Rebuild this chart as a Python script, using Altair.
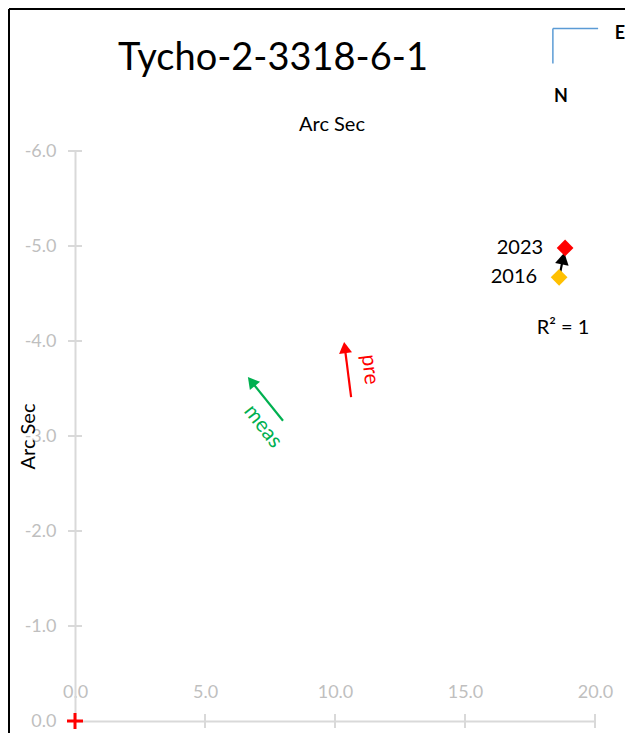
import math
import altair as alt
import pandas as pd

# ---------------- data ----------------
title_text = "Tycho-2-3318-6-1"
axis_title = "Arc Sec"

x_ticks = [0, 5, 10, 15, 20]
y_ticks = [0, -1, -2, -3, -4, -5, -6]

years = ["2016", "2023"]
obs_x = [18.62, 18.85]
obs_y = [-4.67, -4.98]
obs_colors = ["#FFC000", "#FF0000"]

# motion arrow 2016 -> 2023 (tail, tip)
motion_x = [18.62, 18.82]
motion_y = [-4.67, -4.93]

# direction arrows (tail, tip)
pre_x = [10.62, 10.35]
pre_y = [-3.41, -3.99]
meas_x = [8.0, 6.65]
meas_y = [-3.16, -3.62]

arrow_labels = ["pre", "meas"]
arrow_label_x = [11.33, 7.22]
arrow_label_y = [-3.70, -3.10]
arrow_label_angle = [83, 52]
arrow_colors = ["#FF0000", "#00B050"]

r2_text = "R² = 1"
r2_x = [18.77]
r2_y = [-4.14]

# compass
compass_x = [18.38, 20.12, 18.38]
compass_y = [-7.29, -7.29, -6.92]
compass_labels = ["E", "N"]
compass_lx = [20.96, 18.69]
compass_ly = [-7.23, -6.57]

# ---------------- geometry ----------------
W, H = 520, 570
X_DOM = [0, 20]
Y_DOM = [-6, 0]
PX_X = W / (X_DOM[1] - X_DOM[0])
PX_Y = H / (Y_DOM[1] - Y_DOM[0])
FONT = "Lato"

xs = alt.Scale(domain=X_DOM, nice=False, zero=False)
ys = alt.Scale(domain=Y_DOM, nice=False, zero=False, reverse=True)


def X(field):
    return alt.X(field, type="quantitative", scale=xs)


def Y(field):
    return alt.Y(field, type="quantitative", scale=ys)


def arrow_parts(xx, yy, color, size):
    """Return (segment row, head row) for an arrow from tail to tip."""
    dxp = (xx[1] - xx[0]) * PX_X
    dyp = (yy[1] - yy[0]) * PX_Y
    L = math.hypot(dxp, dyp)
    ux, uy = dxp / L, dyp / L
    h = 0.433 * math.sqrt(size)
    cx = xx[1] - ux * h / PX_X
    cy = yy[1] - uy * h / PX_Y
    ang = math.degrees(math.atan2(dxp, -dyp)) % 360
    seg = {"x": xx[0], "y": yy[0], "x2": cx, "y2": cy, "color": color}
    head = {"x": cx, "y": cy, "angle": ang, "color": color, "size": size}
    return seg, head


segs, heads = [], []
for xx, yy, col, sz in [
    (pre_x, pre_y, arrow_colors[0], 170),
    (meas_x, meas_y, arrow_colors[1], 170),
    (motion_x, motion_y, "#000000", 190),
]:
    s, hd = arrow_parts(xx, yy, col, sz)
    segs.append(s)
    heads.append(hd)
seg_df = pd.DataFrame(segs)
head_df = pd.DataFrame(heads)

# ---------------- axes ----------------
xaxis = alt.Axis(
    values=x_ticks, title=" ", ticks=False, grid=False, format=".1f",
    domainColor="#D9D9D9", domainWidth=2,
    labelColor="#BFBFBF", labelFont=FONT, labelFontSize=18,
    labelPadding=-29, labelBaseline="middle", labelFlush=False,
)
yaxis = alt.Axis(
    values=y_ticks, title=axis_title, ticks=False, grid=False,
    labelExpr="(datum.value < 0 ? '-' : '') + format(abs(datum.value), '.1f')",
    domainColor="#D9D9D9", domainWidth=2,
    labelColor="#BFBFBF", labelFont=FONT, labelFontSize=18,
    labelPadding=19, labelBaseline="middle", labelFlush=False,
    titleColor="#000000", titleFont=FONT, titleFontSize=20, titleFontWeight="normal",
    titleX=-47, titleY=H / 2, titleAngle=270, titleAlign="center", titleBaseline="middle",
)

obs_df = pd.DataFrame({"year": years, "x": obs_x, "y": obs_y, "color": obs_colors})

axes_layer = alt.Chart(pd.DataFrame({"x": [0], "y": [0]})).mark_point(opacity=0).encode(
    x=alt.X("x", type="quantitative", scale=xs, axis=xaxis),
    y=alt.Y("y", type="quantitative", scale=ys, axis=yaxis),
)

xtick_layer = alt.Chart(pd.DataFrame({"x": x_ticks})).mark_rule(
    color="#D9D9D9", strokeWidth=2
).encode(x=X("x"), y=alt.value(H - 7), y2=alt.value(H + 7))

ytick_layer = alt.Chart(pd.DataFrame({"y": y_ticks})).mark_rule(
    color="#D9D9D9", strokeWidth=2
).encode(y=Y("y"), x=alt.value(-7), x2=alt.value(7))

obs_layer = alt.Chart(obs_df).mark_point(
    shape="diamond", filled=True, size=280, opacity=1
).encode(x=X("x"), y=Y("y"), color=alt.Color("color:N", scale=None))

origin = alt.Chart(pd.DataFrame({"x": [0], "y": [0]})).mark_point(
    shape="M-1,0H1M0,-1V1", filled=False, color="#FF0000", strokeWidth=3, size=256, opacity=1
).encode(x=X("x"), y=Y("y"))

seg_layer = alt.Chart(seg_df).mark_rule(strokeWidth=2.2).encode(
    x=X("x"), y=Y("y"), x2="x2", y2="y2", color=alt.Color("color:N", scale=None)
)

head_layer = alt.Chart(head_df).mark_point(
    shape="triangle-up", filled=True, opacity=1
).encode(
    x=X("x"), y=Y("y"),
    angle=alt.Angle("angle:Q", scale=None),
    size=alt.Size("size:Q", scale=None),
    color=alt.Color("color:N", scale=None),
)

year_labels = alt.Chart(obs_df).mark_text(
    font=FONT, fontSize=20, align="right", baseline="middle", dx=-22, color="#000000"
).encode(x=X("x"), y=Y("y"), text="year:N")

r2_layer = alt.Chart(pd.DataFrame({"t": [r2_text], "x": r2_x, "y": r2_y})).mark_text(
    font=FONT, fontSize=20, align="center", baseline="middle", color="#000000"
).encode(x=X("x"), y=Y("y"), text="t:N")

arrow_text = alt.Chart(pd.DataFrame({
    "t": arrow_labels, "x": arrow_label_x, "y": arrow_label_y,
    "angle": arrow_label_angle, "color": arrow_colors,
})).mark_text(font=FONT, fontSize=21, align="center", baseline="middle").encode(
    x=X("x"), y=Y("y"), text="t:N",
    angle=alt.Angle("angle:Q", scale=None),
    color=alt.Color("color:N", scale=None),
)

compass_df = pd.DataFrame({
    "x": [compass_x[0], compass_x[0]], "y": [compass_y[0], compass_y[0]],
    "x2": [compass_x[1], compass_x[2]], "y2": [compass_y[1], compass_y[2]],
})
compass_lines = alt.Chart(compass_df).mark_rule(color="#5B9BD5", strokeWidth=1.5).encode(
    x=X("x"), y=Y("y"), x2="x2", y2="y2"
)
compass_text = alt.Chart(pd.DataFrame({
    "t": compass_labels, "x": compass_lx, "y": compass_ly
})).mark_text(font=FONT, fontSize=18, fontWeight="bold", align="center",
              baseline="middle", color="#000000").encode(
    x=X("x"), y=Y("y"), text="t:N"
)

title_layer = alt.Chart(pd.DataFrame({"t": [title_text]})).mark_text(
    font=FONT, fontSize=38, align="center", baseline="alphabetic", color="#000000"
).encode(x=alt.value(198), y=alt.value(-81), text="t:N")

top_title = alt.Chart(pd.DataFrame({"t": [axis_title]})).mark_text(
    font=FONT, fontSize=20, align="center", baseline="alphabetic", color="#000000"
).encode(x=alt.value(257), y=alt.value(-20), text="t:N")

frame_left = alt.Chart(pd.DataFrame({"k": ["left"]})).mark_rule(color="#000000", strokeWidth=2).encode(
    x=alt.value(-66), y=alt.value(-142), y2=alt.value(H + 12)
)
frame_top = alt.Chart(pd.DataFrame({"k": ["top"]})).mark_rule(color="#000000", strokeWidth=2).encode(
    x=alt.value(-66), x2=alt.value(W + 30), y=alt.value(-142)
)

chart = alt.layer(
    axes_layer, xtick_layer, ytick_layer, seg_layer, head_layer, obs_layer,
    origin, year_labels, r2_layer, arrow_text, compass_lines, compass_text,
    title_layer, top_title, frame_left, frame_top,
).properties(
    width=W, height=H,
    padding={"left": 67, "top": 143, "right": 30, "bottom": 12},
    autosize=alt.AutoSizeParams(type="none"),
    background="#FFFFFF",
).configure_view(stroke=None)

chart.save("out.html", embed_options={"renderer": "svg", "actions": False})
